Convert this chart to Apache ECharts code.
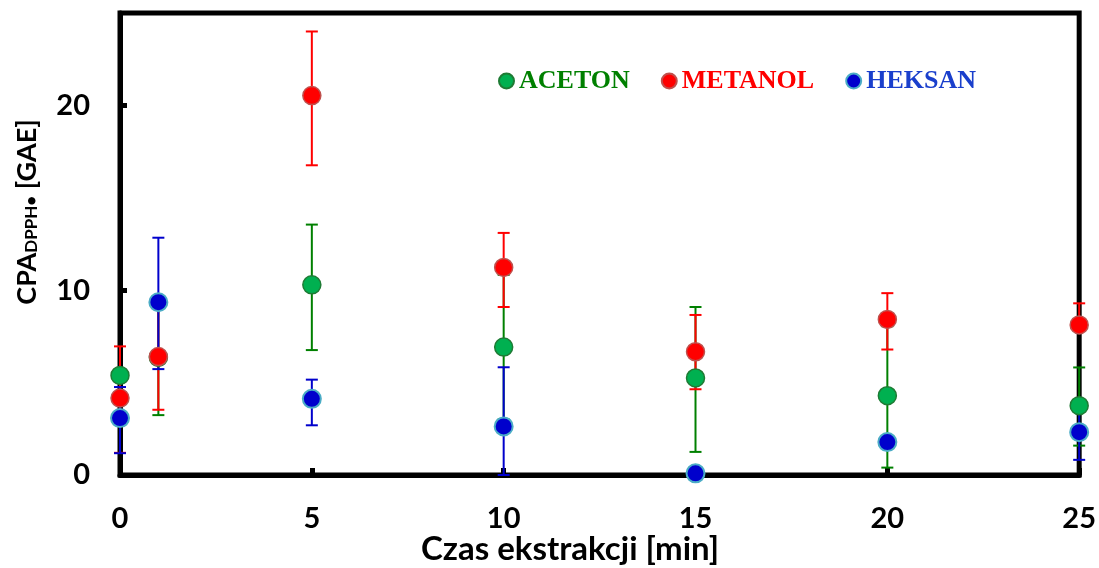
<!DOCTYPE html>
<html>
<head>
<meta charset="utf-8">
<script src="https://cdn.jsdelivr.net/npm/echarts@6/dist/echarts.min.js"></script>
<style>html,body{margin:0;padding:0;background:#fff}#c{width:1099px;height:568px}</style>
</head>
<body>
<div id="c"></div>
<script>
// ---- data ----
const xValues = [0, 1, 5, 10, 15, 20, 25];
const acetonVals  = [5.39, 6.36, 10.29, 6.92, 5.25, 4.29, 3.75];
const acetonLow   = [null, 3.24, 6.76, 3.01, 1.25, 0.40, 1.59];
const acetonHigh  = [null, 9.48, 13.55, 10.83, 9.09, 8.05, 5.82];
const metanolVals = [4.16, 6.41, 20.53, 11.23, 6.67, 8.42, 8.12];
const metanolLow  = [1.20, 3.53, 16.76, 9.09, 4.64, 6.79, 8.12];
const metanolHigh = [6.96, 9.29, 24.00, 13.10, 8.66, 9.84, 9.29];
const heksanVals  = [3.08, 9.35, 4.12, 2.63, 0.09, 1.78, 2.32];
const heksanLow   = [1.18, 5.73, 2.69, 0.00, null, null, 0.82];
const heksanHigh  = [4.76, 12.84, 5.16, 5.83, null, null, 3.82];
const seriesNames = ['ACETON', 'METANOL', 'HEKSAN'];
const xTickLabels = ['0', '5', '10', '15', '20', '25'];
const yTickLabels = ['0', '10', '20'];
const yTitleMain = 'CPA';
const yTitleSub = 'DPPH•';
const yTitleUnit = ' [GAE]';
const xTitle = 'Czas ekstrakcji [min]';

const chart = echarts.init(document.getElementById('c'), null, {renderer: 'canvas'});
const LABEL_FONT = 'Lato';

function errSeries(name, low, high, color) {
  const data = [];
  xValues.forEach((x, i) => { if (low[i] != null) data.push([x, low[i], high[i]]); });
  return {
    type: 'custom',
    name: name + '-err',
    data: data,
    encode: {x: 0, y: [1, 2]},
    z: 3,
    silent: true,
    renderItem: function (params, api) {
      const x = api.value(0);
      const lo = api.coord([x, api.value(1)]);
      const hi = api.coord([x, api.value(2)]);
      const hw = 6;
      const st = {stroke: color, lineWidth: 2};
      return {
        type: 'group',
        children: [
          {type: 'line', shape: {x1: lo[0], y1: lo[1], x2: hi[0], y2: hi[1]}, style: st},
          {type: 'line', shape: {x1: lo[0] - hw, y1: lo[1], x2: lo[0] + hw, y2: lo[1]}, style: st},
          {type: 'line', shape: {x1: hi[0] - hw, y1: hi[1], x2: hi[0] + hw, y2: hi[1]}, style: st}
        ]
      };
    }
  };
}
function ptSeries(name, vals, fill, border, bw) {
  return {
    type: 'scatter',
    name: name,
    data: xValues.map((x, i) => [x, vals[i]]),
    symbol: 'circle',
    symbolSize: 18,
    z: 5,
    itemStyle: {color: fill, borderColor: border, borderWidth: bw, opacity: 1}
  };
}

const option = {
  animation: false,
  backgroundColor: '#fff',
  grid: {left: 120, right: 19, top: 13, bottom: 93, show: true, borderColor: '#000', borderWidth: 5, backgroundColor: 'transparent'},
  legend: {
    left: 493, top: 63,
    icon: 'circle', itemWidth: 15, itemHeight: 15, itemGap: 31,
    textStyle: {fontFamily: 'Liberation Serif', fontWeight: 'bold', fontSize: 26},
    data: [
      {name: seriesNames[0], textStyle: {color: '#008000'}},
      {name: seriesNames[1], textStyle: {color: '#ff0000'}},
      {name: seriesNames[2], textStyle: {color: '#1a3fcc'}}
    ]
  },
  xAxis: {
    type: 'value', min: 0, max: 25, interval: 5,
    axisLine: {show: true, onZero: false, lineStyle: {color: '#000', width: 5}},
    axisTick: {show: true, inside: true, length: 7, lineStyle: {color: '#000', width: 5}},
    splitLine: {show: false},
    axisLabel: {
      margin: 29, color: '#000', fontSize: 29, fontWeight: 'bold', fontFamily: LABEL_FONT,
      formatter: function (v) { const i = xTickLabels.indexOf(String(v)); return i >= 0 ? xTickLabels[i] : ''; }
    }
  },
  yAxis: {
    type: 'value', min: 0, max: 25, interval: 10,
    axisLine: {show: true, onZero: false, lineStyle: {color: '#000', width: 5}},
    axisTick: {show: true, inside: true, length: 7, lineStyle: {color: '#000', width: 5}},
    splitLine: {show: false},
    axisLabel: {
      margin: 30, color: '#000', fontSize: 29, fontWeight: 'bold', fontFamily: LABEL_FONT,
      showMaxLabel: false,
      formatter: function (v) { const i = yTickLabels.indexOf(String(v)); return i >= 0 ? yTickLabels[i] : ''; }
    }
  },
  graphic: [
    {
      type: 'text', x: 570, y: 549,
      style: {text: xTitle, fill: '#000', font: 'bold 33px ' + LABEL_FONT, align: 'center', verticalAlign: 'middle'}
    },
    {
      type: 'text', x: 27, y: 212, rotation: Math.PI / 2,
      style: {
        text: '{a|' + yTitleMain + '}{b|' + yTitleSub + '}{a|' + yTitleUnit + '}',
        align: 'center', verticalAlign: 'middle',
        rich: {
          a: {fontSize: 27, fontWeight: 'bold', fontFamily: LABEL_FONT, fill: '#000', color: '#000'},
          b: {fontSize: 17, fontWeight: 'bold', fontFamily: LABEL_FONT, fill: '#000', color: '#000', verticalAlign: 'bottom'}
        }
      }
    }
  ],
  series: [
    errSeries(seriesNames[0], acetonLow, acetonHigh, '#008000'),
    errSeries(seriesNames[1], metanolLow, metanolHigh, '#ff0000'),
    errSeries(seriesNames[2], heksanLow, heksanHigh, '#0000cc'),
    ptSeries(seriesNames[0], acetonVals, '#00b050', '#1e7b34', 1.5),
    ptSeries(seriesNames[1], metanolVals, '#ff0000', '#c0504d', 1.5),
    ptSeries(seriesNames[2], heksanVals, '#0000cc', '#4bacc6', 2)
  ]
};
chart.setOption(option);
</script>
</body>
</html>
